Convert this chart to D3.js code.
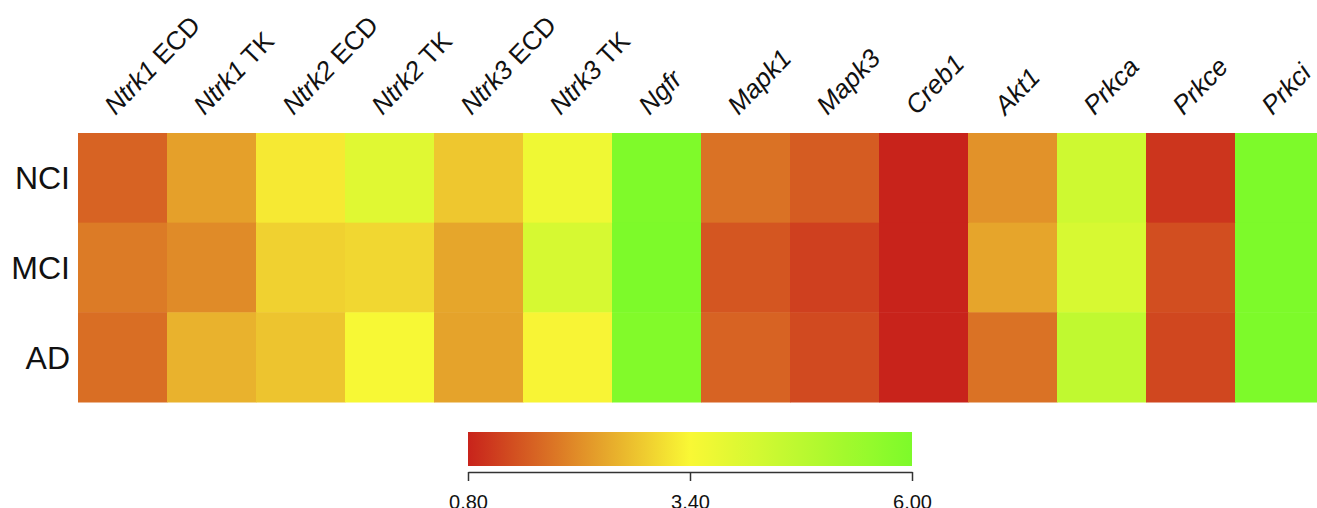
<!DOCTYPE html>
<html>
<head>
	<meta charset="utf-8">
	<title>Heatmap</title>
	<style>
		body { margin: 0; background: #fff; }
		text { font-family: "Liberation Sans", Arial, sans-serif; fill: #111; }
	</style>
</head>
<body>
	<svg id="canvas" width="1317" height="508"></svg>
	<script src="https://cdn.jsdelivr.net/npm/d3@7"></script>
	<script>
		// gene name (italic) + suffix (upright)
		let genes = ["Ntrk1", "Ntrk1", "Ntrk2", "Ntrk2", "Ntrk3", "Ntrk3", "Ngfr",
			"Mapk1", "Mapk3", "Creb1", "Akt1", "Prkca", "Prkce", "Prkci"];
		let suffixes = [" ECD", " TK", " ECD", " TK", " ECD", " TK", "",
			"", "", "", "", "", "", ""];
		let groups = ["NCI", "MCI", "AD"];

		let nci = [1.58, 2.33, 3.22, 3.92, 2.80, 3.60, 5.95, 1.76, 1.49, 0.80, 2.16, 4.31, 1.02, 6.00];
		let mci = [1.87, 2.07, 2.93, 3.00, 2.40, 4.14, 6.00, 1.42, 1.15, 0.80, 2.39, 4.12, 1.32, 6.00];
		let ad  = [1.72, 2.55, 2.77, 3.45, 2.36, 3.35, 5.90, 1.58, 1.27, 0.80, 1.76, 4.60, 1.24, 6.00];
		let rows = [nci, mci, ad];

		let legendTicks = [0.80, 3.40, 6.00];

		let svg = d3.select("#canvas");

		let cols = genes.map(function(g, i){ return i; });

		let x = d3.scaleBand().domain(cols).range([78, 1324]);
		let y = d3.scaleBand().domain(groups).range([133, 402]);

		let color = d3.scaleLinear()
			.domain(legendTicks)
			.range(["#c8231b", "#f9f835", "#7dfa2a"])
			.interpolate(d3.interpolateRgb)
			.clamp(true);

		// cells
		let cells = [];
		rows.forEach(function(r, ri){
			r.forEach(function(v, ci){
				cells.push({ row: groups[ri], col: ci, value: v });
			});
		});

		svg.append("g").selectAll("rect")
			.data(cells)
			.enter().append("rect")
				.attr("x", function(d){ return x(d.col); })
				.attr("y", function(d){ return y(d.row); })
				.attr("width", x.bandwidth() + 0.5)
				.attr("height", y.bandwidth() + 0.5)
				.attr("fill", function(d){ return color(d.value); });

		// row labels
		svg.append("g").selectAll("text")
			.data(groups)
			.enter().append("text")
				.attr("x", 70)
				.attr("y", function(d){ return y(d) + y.bandwidth() / 2; })
				.attr("dy", "0.36em")
				.attr("text-anchor", "end")
				.style("font-size", "32px")
				.text(function(d){ return d; });

		// column labels, rotated
		let colLabels = svg.append("g").selectAll("text")
			.data(cols)
			.enter().append("text")
				.attr("transform", function(d){
					return "translate(" + (x(d) + x.bandwidth() / 2 - 7) + ",116) rotate(-46)";
				})
				.style("font-size", "26px");

		colLabels.append("tspan")
			.style("font-style", "italic")
			.text(function(d){ return genes[d]; });
		colLabels.append("tspan")
			.text(function(d){ return suffixes[d]; });

		// colour legend
		let lx = d3.scaleLinear().domain([0.80, 6.00]).range([468, 912]);

		let grad = svg.append("defs").append("linearGradient")
			.attr("id", "legendGrad")
			.attr("x1", "0%").attr("x2", "100%");
		d3.range(0, 1.0001, 0.05).forEach(function(t){
			let v = 0.80 + t * (6.00 - 0.80);
			grad.append("stop")
				.attr("offset", (t * 100) + "%")
				.attr("stop-color", color(v));
		});

		svg.append("rect")
			.attr("x", lx(0.80))
			.attr("y", 432)
			.attr("width", lx(6.00) - lx(0.80))
			.attr("height", 34)
			.attr("fill", "url(#legendGrad)");

		let legendAxis = d3.axisBottom(lx)
			.tickValues(legendTicks)
			.tickFormat(d3.format(".2f"))
			.tickSize(9)
			.tickSizeOuter(0);

		let la = svg.append("g")
			.attr("transform", "translate(0,472)")
			.call(legendAxis);
		la.attr("font-size", null);
		la.select(".domain").attr("stroke", "#333").attr("stroke-width", 1.5);
		la.selectAll(".tick line").attr("stroke", "#333").attr("stroke-width", 1.5)
			.attr("y1", 0).attr("y2", 9);
		la.selectAll(".tick text")
			.attr("y", 37)
			.attr("dy", null)
			.attr("font-size", 20)
			.style("font-size", "20px")
			.attr("fill", "#222");
	</script>
</body>
</html>
